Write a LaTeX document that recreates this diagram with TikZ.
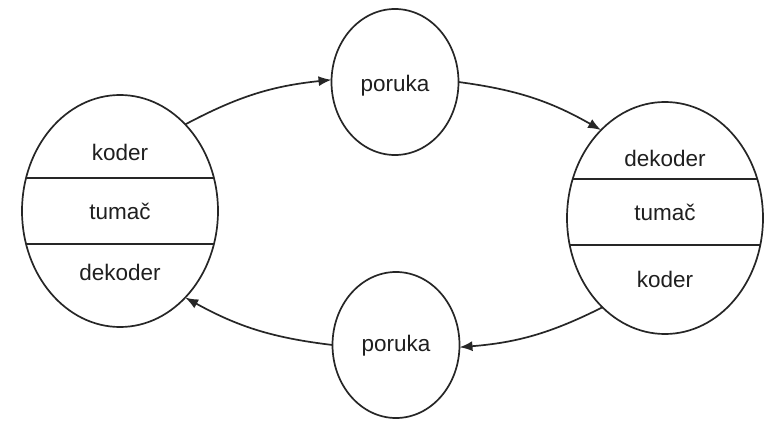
\documentclass[tikz,border=0pt]{standalone}
\usepackage{fontspec}
\setmainfont{Liberation Sans}
\usetikzlibrary{shapes.geometric, arrows.meta}
\begin{document}
\begin{tikzpicture}[x=1pt, y=-1pt,
  ink/.style={draw=black!85, line width=1.7pt},
  party/.style={ink, ellipse, inner sep=0pt, outer sep=0pt,
                minimum width=196pt, minimum height=232pt},
  msg/.style={ink, ellipse, inner sep=0pt, outer sep=0pt,
              minimum width=127pt, minimum height=146pt},
  lbl/.style={font=\fontsize{22.5}{26}\selectfont, text=black!88, inner sep=0pt},
  flow/.style={ink, -{Latex[length=13pt, width=10pt]}, bend left=11},
]
\useasboundingbox[fill=white] (0,0) rectangle (764,423);

% sender and receiver
\node[party] (L) at (120,211) {};
\node[party] (R) at (665,218) {};

% the two messages
\node[msg] (T) at (395,82) {};
\node[msg] (B) at (396,345) {};

% layers inside the sender
\begin{scope}
  \clip (120,211) ellipse [x radius=98, y radius=116];
  \draw[ink] (0,178) -- (240,178);
  \draw[ink] (0,244) -- (240,244);
\end{scope}
% layers inside the receiver
\begin{scope}
  \clip (665,218) ellipse [x radius=98, y radius=116];
  \draw[ink] (540,179) -- (764,179);
  \draw[ink] (540,245) -- (764,245);
\end{scope}

\node[lbl] (Lk) at (120,152) {koder};
\node[lbl] (Lt) at (120,211) {tumač};
\node[lbl] (Ld) at (120,272) {dekoder};

\node[lbl] (Rd) at (665,158) {dekoder};
\node[lbl] (Rt) at (665,212) {tumač};
\node[lbl] (Rk) at (665,279) {koder};

\node[lbl] (Tm) at (395,86) {poruka};
\node[lbl] (Bm) at (396,346) {poruka};

% message flow
\draw[flow] (L.53) to (T.178);
\draw[flow] (T.0) to (R.126);
\draw[flow] (R.235) to (B.358);
\draw[flow] (B.180) to (L.-53);
\end{tikzpicture}
\end{document}
